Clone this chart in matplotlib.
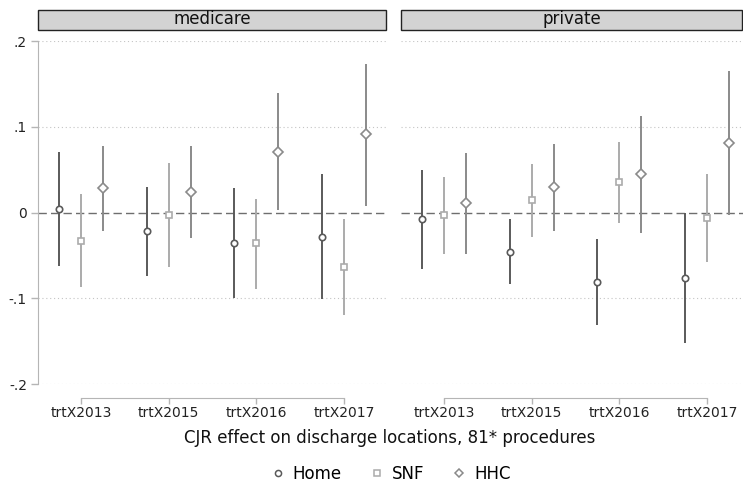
import numpy as np
import matplotlib
matplotlib.use('Agg')
import matplotlib.pyplot as plt
from matplotlib.patches import Rectangle
from matplotlib.lines import Line2D

# coefficient plot data
terms = ['trtX2013', 'trtX2015', 'trtX2016', 'trtX2017']
panels = ['medicare', 'private']
outcomes = ['Home', 'SNF', 'HHC']

# medicare
med_home = [0.004, -0.022, -0.036, -0.028]
med_home_lo = [-0.062, -0.074, -0.100, -0.101]
med_home_hi = [0.070, 0.030, 0.028, 0.045]
med_snf = [-0.033, -0.003, -0.036, -0.064]
med_snf_lo = [-0.087, -0.064, -0.089, -0.120]
med_snf_hi = [0.021, 0.058, 0.016, -0.008]
med_hhc = [0.028, 0.024, 0.071, 0.091]
med_hhc_lo = [-0.022, -0.030, 0.003, 0.008]
med_hhc_hi = [0.077, 0.077, 0.139, 0.173]

# private
prv_home = [-0.008, -0.046, -0.081, -0.076]
prv_home_lo = [-0.066, -0.083, -0.131, -0.152]
prv_home_hi = [0.049, -0.008, -0.031, 0.000]
prv_snf = [-0.003, 0.014, 0.035, -0.006]
prv_snf_lo = [-0.048, -0.029, -0.012, -0.058]
prv_snf_hi = [0.041, 0.057, 0.082, 0.045]
prv_hhc = [0.011, 0.030, 0.045, 0.081]
prv_hhc_lo = [-0.048, -0.021, -0.024, -0.003]
prv_hhc_hi = [0.069, 0.080, 0.113, 0.165]

yticks = [-0.2, -0.1, 0, 0.1, 0.2]
ytick_labels = ['-.2', '-.1', '0', '.1', '.2']

colors = {'Home': '#5a5a5a', 'SNF': '#ababab', 'HHC': '#8a8a8a'}
markers = {'Home': 'o', 'SNF': 's', 'HHC': 'D'}
msize = {'Home': 4.6, 'SNF': 4.4, 'HHC': 4.6}
offsets = {'Home': -0.25, 'SNF': 0.0, 'HHC': 0.25}

data = {
    'medicare': {
        'Home': (med_home, med_home_lo, med_home_hi),
        'SNF': (med_snf, med_snf_lo, med_snf_hi),
        'HHC': (med_hhc, med_hhc_lo, med_hhc_hi),
    },
    'private': {
        'Home': (prv_home, prv_home_lo, prv_home_hi),
        'SNF': (prv_snf, prv_snf_lo, prv_snf_hi),
        'HHC': (prv_hhc, prv_hhc_lo, prv_hhc_hi),
    },
}

W, H = 743, 486
fig = plt.figure(figsize=(W / 100, H / 100), dpi=100)

# pixel boxes for the two panels: (left, right)
boxes = [(38, 387), (401, 743)]
top_px, bot_px = 41, 384
unit = 87.7  # px per category

x = np.arange(1, len(terms) + 1)

for i, (panel, (l, r)) in enumerate(zip(panels, boxes)):
    ax = fig.add_axes([l / W, 1 - bot_px / H, (r - l) / W, (bot_px - top_px) / H])
    # x limits so that category 1 sits 43px from the left edge
    x0 = 1 - 43 / unit
    ax.set_xlim(x0, x0 + (r - l) / unit)
    ax.set_ylim(-0.2, 0.2)

    for yv in [-0.2, -0.1, 0.1, 0.2]:
        ax.axhline(yv, color='#c4c4c4', lw=0.8, ls=(0, (1, 2.5)), zorder=0)
    ax.axhline(0, color='#6e6e6e', lw=1.0, ls=(0, (6, 3)), zorder=1)

    for o in outcomes:
        est, lo, hi = data[panel][o]
        xs = x + offsets[o]
        ax.vlines(xs, lo, hi, color=colors[o], lw=1.4, zorder=2)
        ax.plot(xs, est, ls='none', marker=markers[o], ms=msize[o],
                mfc='white', mec=colors[o], mew=1.2, zorder=3)

    for s in ['top', 'right']:
        ax.spines[s].set_visible(False)
    ax.spines['bottom'].set_position(('outward', 10))
    ax.spines['bottom'].set_bounds(1, 4)
    ax.spines['bottom'].set_color('#b5b5b5')
    ax.set_xticks(x)
    ax.set_xticklabels(terms, fontsize=10)
    ax.tick_params(axis='x', colors='#b5b5b5', labelcolor='#222222', length=4, width=1, pad=2)

    ax.set_yticks(yticks)
    if i == 0:
        ax.spines['left'].set_color('#b5b5b5')
        ax.set_yticklabels(ytick_labels, fontsize=10)
        ax.tick_params(axis='y', colors='#b5b5b5', labelcolor='#222222', length=5, width=1, pad=3)
    else:
        ax.spines['left'].set_visible(False)
        ax.tick_params(axis='y', left=False, labelleft=False)
    ax.patch.set_alpha(0)

    # strip label on top
    fig.patches.append(Rectangle((l / W, 1 - 30 / H), (r - l - 1) / W, 20 / H,
                                 transform=fig.transFigure, facecolor='#d3d3d3',
                                 edgecolor='#222222', lw=1.0))
    fig.text((l + r) / 2 / W, 1 - 19.5 / H, panel, ha='center', va='center',
             fontsize=12, color='#111111')

fig.text(390 / W, 1 - 438 / H, 'CJR effect on discharge locations, 81* procedures',
         ha='center', va='center', fontsize=12, color='#111111')

handles = [Line2D([], [], ls='none', marker=markers[o], ms=4.4,
                  mfc='white', mec=colors[o], mew=1.1) for o in outcomes]
fig.legend(handles, outcomes, loc='center', bbox_to_anchor=(390 / W, 1 - 474 / H),
           ncol=3, frameon=False, fontsize=12, handletextpad=0.4, columnspacing=1.6,
           handlelength=1.0)

fig.savefig('out.png', dpi=100)
